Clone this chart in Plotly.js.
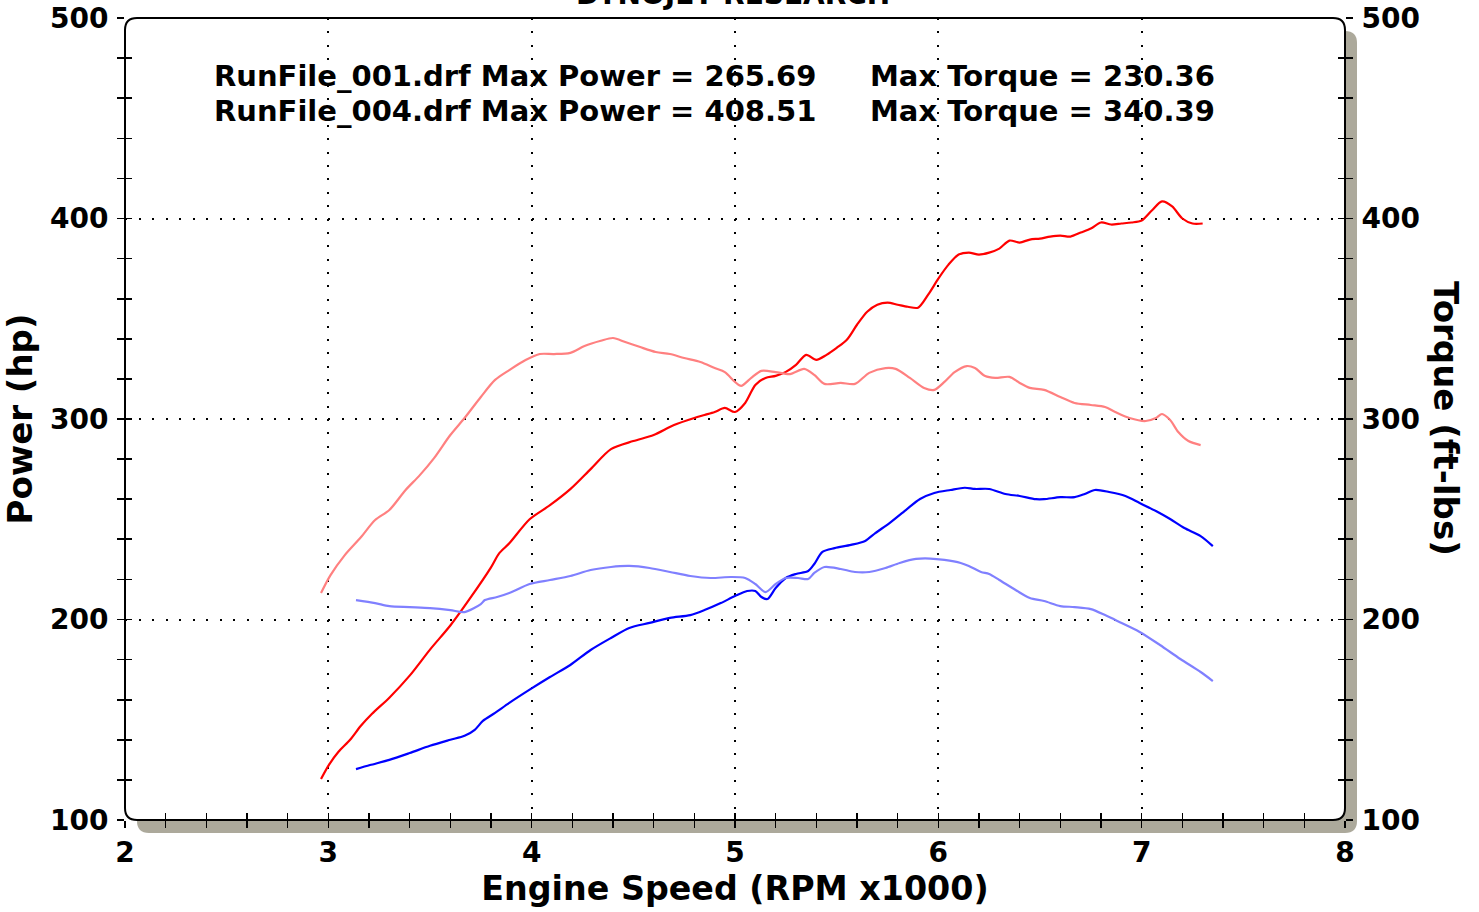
<!DOCTYPE html>
<html>
<head>
<meta charset="utf-8">
<script src="https://cdn.plot.ly/plotly-3.0.1.min.js"></script>
<style>html,body{margin:0;padding:0;background:#fff;}#chart{width:1479px;height:912px;}</style>
</head>
<body>
<div id="chart"></div>
<script>
// ---- Data ----
var rpm004Power = [2.964,3.0,3.05,3.107,3.16,3.215,3.30,3.40,3.50,3.60,3.70,3.80,3.84,3.89,3.99,4.09,4.19,4.29,4.39,4.5,4.6,4.7,4.8,4.85,4.9,4.95,5.0,5.05,5.1,5.15,5.2,5.25,5.3,5.35,5.4,5.45,5.5,5.55,5.6,5.65,5.7,5.75,5.8,5.85,5.9,5.95,6.0,6.05,6.1,6.15,6.2,6.25,6.3,6.35,6.4,6.45,6.5,6.55,6.6,6.65,6.7,6.75,6.8,6.85,6.9,6.95,7.0,7.05,7.1,7.15,7.2,7.25,7.3];
var power004 = [120.4,127,134,140,147,153,161,172,185,197,211,226,233,238,250,257,265,275,285,289,292,297,300.5,302,303.5,305.5,303.5,308,317,320.5,321.5,323.5,327,332,329.5,332,335.5,339.5,347,353.5,357,358,357,356,355.5,362,370,377,382,383,382,383,385,389,388,389.5,390,391,391.5,391,393,395,398,397,397.5,398,399,404,408.5,406,400,397.5,397.5];

var rpm004Torque = [2.964,3.01,3.08,3.16,3.23,3.30,3.38,3.45,3.52,3.60,3.67,3.75,3.82,3.89,3.97,4.04,4.11,4.19,4.26,4.34,4.40,4.46,4.53,4.61,4.68,4.75,4.83,4.90,4.95,5.0,5.03,5.08,5.13,5.20,5.27,5.34,5.39,5.44,5.52,5.59,5.66,5.74,5.79,5.86,5.93,5.98,6.03,6.08,6.14,6.18,6.23,6.28,6.35,6.40,6.45,6.52,6.60,6.67,6.75,6.82,6.87,6.94,7.02,7.07,7.10,7.14,7.18,7.23,7.29];
var torque004 = [213.2,222,232,241,249.6,254.6,264.6,272,280.5,292,300.5,311,319.5,324.4,329.4,332.4,332.4,333,336.4,339,340.4,338.4,336,333.4,332.4,330.4,328.4,325.4,323.4,318.5,316.5,320.5,324,323.4,322.4,325,322,317.5,318,317.5,323,325.4,325,320.5,315.5,314.5,318.5,323.4,326.4,325.4,321.4,320.5,321,318,315.5,314.5,311,308,307,306,303.5,300.5,299,300.5,302.5,299.5,293.5,289,287];

var rpm001Power = [3.136,3.205,3.30,3.40,3.50,3.60,3.67,3.72,3.76,3.82,3.89,3.99,4.09,4.19,4.29,4.39,4.48,4.58,4.68,4.78,4.85,4.93,5.0,5.06,5.10,5.13,5.16,5.20,5.25,5.30,5.36,5.39,5.43,5.49,5.57,5.64,5.69,5.76,5.84,5.91,5.98,6.06,6.13,6.18,6.25,6.33,6.40,6.48,6.52,6.60,6.67,6.72,6.77,6.84,6.92,6.99,7.07,7.14,7.21,7.29,7.35];
var power001 = [125.4,127.4,130,133.4,137,140,142,145,149.4,153.4,158.4,165,171.3,177.3,184.8,190.8,195.8,198.3,200.8,202.2,204.7,208.2,211.7,214.2,214.2,211.2,210.2,215.7,220.7,222.7,224.2,227.7,233.7,235.6,237.2,239.2,243.1,248.1,254.6,260.1,263.1,264.6,265.7,265.1,265.1,262.6,261.6,260,260,261,261,262.6,264.6,263.6,261.6,258.1,254.1,250.1,245.6,241.6,236.6];

var rpm001Torque = [3.136,3.23,3.30,3.40,3.50,3.60,3.67,3.75,3.77,3.83,3.89,3.99,4.09,4.19,4.29,4.39,4.48,4.58,4.68,4.78,4.88,4.98,5.05,5.10,5.15,5.20,5.25,5.31,5.36,5.39,5.44,5.52,5.59,5.66,5.74,5.81,5.89,5.96,6.03,6.11,6.15,6.21,6.25,6.30,6.38,6.45,6.52,6.60,6.67,6.75,6.82,6.89,6.99,7.09,7.19,7.29,7.35];
var torque001 = [209.7,208.2,206.7,206.2,205.7,204.7,203.7,207.7,209.7,211.2,213.2,217.7,219.7,221.7,224.7,226.2,226.7,225.7,223.7,221.7,220.7,221.2,220.7,217.7,213.7,217.7,220.7,220.7,220.2,223.2,226.2,225.2,223.7,223.7,225.7,228.2,230.2,230.4,229.7,228.2,226.7,223.7,222.7,219.7,214.7,210.7,209.2,206.7,206.2,205.2,202.2,198.8,193.8,187.3,180.3,173.8,169.3];

var xTickVals = [2,3,4,5,6,7,8];
var yTickVals = [100,200,300,400,500];
var headerLines = [
  ["RunFile_001.drf Max Power = 265.69", "Max Torque = 230.36"],
  ["RunFile_004.drf Max Power = 408.51", "Max Torque = 340.39"]
];
var chartTitle = "DYNOJET RESEARCH";
var xTitle = "Engine Speed (RPM x1000)";
var yTitle = "Power (hp)";
var y2Title = "Torque (ft-lbs)";

// ---- Layout geometry (pixels) ----
var W = 1479, H = 912;
var L = 125, R = 1345, T = 18, B = 820;
var PW = R - L, PH = B - T;
function px(x){ return (x - L) / PW; }
function py(y){ return (B - y) / PH; }
function roundRect(x0, y0, x1, y1, r){
  var rx = r / PW, ry = r / PH;
  var a = px(x0), b = px(x1), top = py(y0), bot = py(y1);
  return 'M' + (a + rx) + ',' + top +
    ' L' + (b - rx) + ',' + top +
    ' Q' + b + ',' + top + ' ' + b + ',' + (top - ry) +
    ' L' + b + ',' + (bot + ry) +
    ' Q' + b + ',' + bot + ' ' + (b - rx) + ',' + bot +
    ' L' + (a + rx) + ',' + bot +
    ' Q' + a + ',' + bot + ' ' + a + ',' + (bot + ry) +
    ' L' + a + ',' + (top - ry) +
    ' Q' + a + ',' + top + ' ' + (a + rx) + ',' + top + ' Z';
}

var FONT = "DejaVu Sans, Verdana, sans-serif";
var lineW = 2.2;

// Power 004 on x/y, Torque 004 on x/y2 (right, outside ticks),
// Power 001 on x2/y3 (left inside ticks), Torque 001 on x2/y4 (right inside ticks).
// All axes share the same ranges, so the curves sit on the same scales.
var traces = [
  {x: rpm004Torque, y: torque004, type: 'scatter', mode: 'lines', name: 'RunFile_004 Torque',
   line: {color: '#ff8080', width: lineW, shape: 'spline', smoothing: 0.8}, xaxis: 'x', yaxis: 'y2'},
  {x: rpm001Torque, y: torque001, type: 'scatter', mode: 'lines', name: 'RunFile_001 Torque',
   line: {color: '#8080ff', width: lineW, shape: 'spline', smoothing: 0.8}, xaxis: 'x2', yaxis: 'y4'},
  {x: rpm004Power, y: power004, type: 'scatter', mode: 'lines', name: 'RunFile_004 Power',
   line: {color: '#ff0000', width: lineW, shape: 'spline', smoothing: 0.8}, xaxis: 'x', yaxis: 'y'},
  {x: rpm001Power, y: power001, type: 'scatter', mode: 'lines', name: 'RunFile_001 Power',
   line: {color: '#0000ff', width: lineW, shape: 'spline', smoothing: 0.8}, xaxis: 'x2', yaxis: 'y3'}
];

var tickFont = {family: FONT, size: 28, color: '#000', weight: 'bold'};
var tickCommon = {tickcolor: '#000', tickwidth: 1.6, ticklen: 7};
function minorTicks(dt, side){ return {dtick: dt, ticks: side, ticklen: 7, tickcolor: '#000', tickwidth: 1.6, showgrid: false}; }

var layout = {
  width: W, height: H,
  margin: {l: L, r: W - R, t: T, b: H - B, pad: 0},
  paper_bgcolor: '#ffffff',
  plot_bgcolor: 'rgba(0,0,0,0)',
  showlegend: false,
  font: {family: FONT, color: '#000'},
  xaxis: Object.assign({
    range: [2, 8], tickvals: xTickVals, ticks: 'outside', showline: false, zeroline: false,
    showgrid: true, gridcolor: '#000', gridwidth: 2, griddash: '2px,11.37px',
    tickfont: tickFont, ticklabelstandoff: 0,
    minor: minorTicks(0.2, 'outside'),
    title: {text: xTitle, font: {family: FONT, size: 33.3, color: '#000', weight: 'bold'}, standoff: 6}
  }, tickCommon),
  xaxis2: Object.assign({
    range: [2, 8], overlaying: 'x', anchor: 'y', side: 'bottom', tickvals: xTickVals, ticks: 'inside',
    showline: false, zeroline: false, showgrid: false, showticklabels: false,
    minor: minorTicks(0.2, 'inside')
  }, tickCommon),
  yaxis: Object.assign({
    range: [100, 500], tickvals: yTickVals, ticks: 'outside', showline: false, zeroline: false,
    showgrid: true, gridcolor: '#000', gridwidth: 2, griddash: '2px,11.55px',
    tickfont: tickFont, ticklabelstandoff: 3,
    minor: minorTicks(20, 'outside'),
    title: {text: yTitle, font: {family: FONT, size: 34, color: '#000', weight: 'bold'}, standoff: 8}
  }, tickCommon),
  yaxis2: Object.assign({
    range: [100, 500], overlaying: 'y', side: 'right', anchor: 'x', tickvals: yTickVals, ticks: 'outside',
    showline: false, zeroline: false, showgrid: false, tickfont: tickFont, ticklabelstandoff: 3,
    minor: minorTicks(20, 'outside')
  }, tickCommon),
  yaxis3: Object.assign({
    range: [100, 500], overlaying: 'y', side: 'left', anchor: 'x2', tickvals: yTickVals, ticks: 'inside',
    showline: false, zeroline: false, showgrid: false, showticklabels: false,
    minor: minorTicks(20, 'inside')
  }, tickCommon),
  yaxis4: Object.assign({
    range: [100, 500], overlaying: 'y', side: 'right', anchor: 'x2', tickvals: yTickVals, ticks: 'inside',
    showline: false, zeroline: false, showgrid: false, showticklabels: false,
    minor: minorTicks(20, 'inside')
  }, tickCommon),
  shapes: [
    {type: 'path', xref: 'paper', yref: 'paper', layer: 'below', path: roundRect(L + 12, T + 13, R + 12, B + 13, 12),
     fillcolor: '#aca99b', line: {width: 0}},
    {type: 'path', xref: 'paper', yref: 'paper', layer: 'below', path: roundRect(L, T, R, B, 12),
     fillcolor: '#ffffff', line: {width: 0}},
    {type: 'path', xref: 'paper', yref: 'paper', layer: 'above', path: roundRect(L, T, R, B, 12),
     fillcolor: 'rgba(0,0,0,0)', line: {color: '#000', width: 2}}
  ],
  annotations: [
    {xref: 'paper', yref: 'paper', x: px(733), y: py(-6), xanchor: 'center', yanchor: 'middle', showarrow: false,
     text: chartTitle, font: {family: FONT, size: 28, color: '#000', weight: 'bold'}},
    {xref: 'paper', yref: 'paper', x: px(212), y: py(76), xanchor: 'left', yanchor: 'middle', showarrow: false,
     text: headerLines[0][0], font: {family: FONT, size: 29, color: '#000', weight: 'bold'}},
    {xref: 'paper', yref: 'paper', x: px(868), y: py(76), xanchor: 'left', yanchor: 'middle', showarrow: false,
     text: headerLines[0][1], font: {family: FONT, size: 29, color: '#000', weight: 'bold'}},
    {xref: 'paper', yref: 'paper', x: px(212), y: py(111), xanchor: 'left', yanchor: 'middle', showarrow: false,
     text: headerLines[1][0], font: {family: FONT, size: 29, color: '#000', weight: 'bold'}},
    {xref: 'paper', yref: 'paper', x: px(868), y: py(111), xanchor: 'left', yanchor: 'middle', showarrow: false,
     text: headerLines[1][1], font: {family: FONT, size: 29, color: '#000', weight: 'bold'}},
    {xref: 'paper', yref: 'paper', x: px(1446), y: py(418), xanchor: 'center', yanchor: 'middle', showarrow: false,
     textangle: 90, text: y2Title, font: {family: FONT, size: 34, color: '#000', weight: 'bold'}}
  ]
};

Plotly.newPlot('chart', traces, layout, {displayModeBar: false, staticPlot: true});
</script>
</body>
</html>
